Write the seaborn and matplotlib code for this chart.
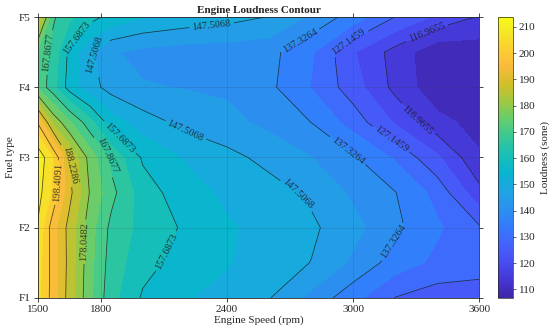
import numpy as np
import matplotlib
matplotlib.use('Agg')  # Use non-interactive backend
import matplotlib.pyplot as plt
from matplotlib.colors import LinearSegmentedColormap, Normalize
import matplotlib.cm as cm
import seaborn as sns

# Grid of the loudness surface
speed_rpm = [1500, 1575, 1650, 1750, 1850, 2000, 2200, 2400, 2600, 2800, 3000, 3200, 3400, 3600]
fuel_pos = [1.0, 1.5, 2.0, 2.5, 3.0, 3.5, 4.0, 4.5, 5.0]
fuel_labels = ['F1', 'F2', 'F3', 'F4', 'F5']
speed_ticks = [1500, 1800, 2400, 3000, 3600]

loud_f1_0 = [205, 196, 186, 174, 164.5, 157, 153, 151, 147.8, 141, 134, 127, 124.5, 124.5]
loud_f1_5 = [206, 196, 186.5, 174.5, 165.5, 159.5, 155.5, 153, 150, 147.4, 141.5, 135, 131, 129.5]
loud_f2_0 = [208, 195, 186.5, 175, 166.5, 161, 157, 153.2, 151, 148.5, 144, 138.5, 133, 127.8]
loud_f2_5 = [211, 202, 190, 177.5, 169.5, 160, 155, 151.5, 149.5, 146.5, 141.5, 137.5, 130.5, 118.5]
loud_f3_0 = [213, 203, 188, 176, 166.5, 157, 152, 149, 146, 142.5, 138, 131.5, 123, 112.5]
loud_f3_5 = [198, 182, 174, 164.5, 155, 150, 146, 144, 141, 137.3, 130, 121.5, 113.5, 110]
loud_f4_0 = [172, 164.5, 155.5, 149.5, 145.5, 142.8, 142.2, 141.5, 138.5, 132, 124.5, 115.5, 108.5, 107.5]
loud_f4_5 = [172, 166, 156.5, 148.5, 143, 141, 139.8, 139.5, 139, 133, 122.5, 115, 108, 109]
loud_f5_0 = [190, 168.5, 164, 159.5, 156, 153, 151, 149.5, 147.3, 141.5, 135, 127, 121, 116.5]

# contour line values as printed on the chart
line_levels = [116.9655, 127.1459, 137.3264, 147.5068, 157.6873,
               167.8677, 178.0482, 188.2286, 198.4091, 208.5896]
loud_min = 106.7850
loud_max = 213.6798

# parula-like colormap
parula_pts = [
    (0.2422, 0.1504, 0.6603), (0.2706, 0.2147, 0.8364), (0.2813, 0.3006, 0.9414),
    (0.2699, 0.3892, 0.9906), (0.1963, 0.4847, 0.9892), (0.1687, 0.5703, 0.9359),
    (0.1248, 0.6459, 0.8883), (0.0297, 0.7082, 0.8163), (0.0964, 0.7500, 0.7120),
    (0.2161, 0.7843, 0.5923), (0.3909, 0.8029, 0.4354), (0.6174, 0.7876, 0.2612),
    (0.8203, 0.7498, 0.1535), (0.9728, 0.7298, 0.2394), (0.9892, 0.8136, 0.1885),
    (0.9597, 0.9135, 0.1423), (0.9769, 0.9839, 0.0805)]
parula_idx = [0, 4, 8, 12, 16, 20, 24, 28, 32, 36, 40, 44, 48, 52, 56, 60, 63]
parula = LinearSegmentedColormap.from_list(
    'parula', [(i / 63, c) for i, c in zip(parula_idx, parula_pts)])

sns.set_theme(style='white')
plt.rcParams['font.family'] = ['Liberation Serif', 'DejaVu Serif']

X, Y = np.meshgrid(speed_rpm, fuel_pos)
Z = np.array([loud_f1_0, loud_f1_5, loud_f2_0, loud_f2_5, loud_f3_0,
              loud_f3_5, loud_f4_0, loud_f4_5, loud_f5_0])

# filled bands: the line levels plus one band in between each
edges = [loud_min] + line_levels + [loud_max]
fill_levels = []
for a, b in zip(edges[:-1], edges[1:]):
    fill_levels += [a, (a + b) / 2]
fill_levels.append(loud_max)
norm = Normalize(loud_min, loud_max)

fig = plt.figure(figsize=(5.5, 3.35), dpi=100)
ax = fig.add_axes([0.0685, 0.111, 0.803, 0.838])
cax = fig.add_axes([498 / 550, 0.111, 15 / 550, 0.838])

ax.contourf(X, Y, Z, levels=fill_levels, cmap=parula, norm=norm)

# label positions for each contour line (data coords)
label_spots = {
    0: [(3350, 4.79), (3316, 3.57)],
    1: [(2980, 4.64), (3183, 3.27)],
    2: [(2747, 4.67), (3008, 3.23), (3198, 1.79)],
    3: [(2328, 4.84), (1772, 4.46), (2200, 3.36), (2747, 2.5)],
    4: [(1691, 4.7), (1891, 3.29), (2115, 1.66)],
    5: [(1535, 4.5), (1820, 3.0)],
    6: [(1715, 1.8)],
    7: [(1644, 2.89)],
    8: [(1582, 2.64)],
}
for i, lev in enumerate(line_levels):
    cs = ax.contour(X, Y, Z, levels=[lev], colors='#1a1a1a', linewidths=0.55, alpha=0.8)
    if i in label_spots:
        ax.clabel(cs, fmt='%.4f', fontsize=7.5, inline=True, inline_spacing=3,
                  manual=label_spots[i])

ax.set_xlim(1500, 3600)
ax.set_ylim(1, 5)
ax.set_xticks(speed_ticks)
ax.set_yticks([1, 2, 3, 4, 5])
ax.set_yticklabels(fuel_labels)
ax.grid(True, color='#333333', alpha=0.18, linewidth=0.6)
ax.set_axisbelow(False)
ax.tick_params(direction='out', length=3, width=0.6, labelsize=8, colors='#262626',
               top=True, right=True, bottom=True, left=True, pad=2)
for s in ax.spines.values():
    s.set_linewidth(0.6)
    s.set_color('#262626')

ax.set_title('Engine Loudness Contour', fontsize=8, fontweight='bold', pad=3)
ax.set_xlabel('Engine Speed (rpm)', fontsize=8, labelpad=1, color='#262626')
ax.set_ylabel('Fuel type', fontsize=8, labelpad=3, color='#262626')

cb = fig.colorbar(cm.ScalarMappable(norm=norm, cmap=parula), cax=cax)
cb.set_ticks(list(range(110, 211, 10)))
cb.ax.tick_params(labelsize=8, length=2, width=0.5, colors='#262626', pad=2)
cb.outline.set_linewidth(0.5)
cb.set_label('Loudness (sone)', fontsize=8, color='#262626', labelpad=4)

fig.savefig('out.png', dpi=100)
plt.close('all')
